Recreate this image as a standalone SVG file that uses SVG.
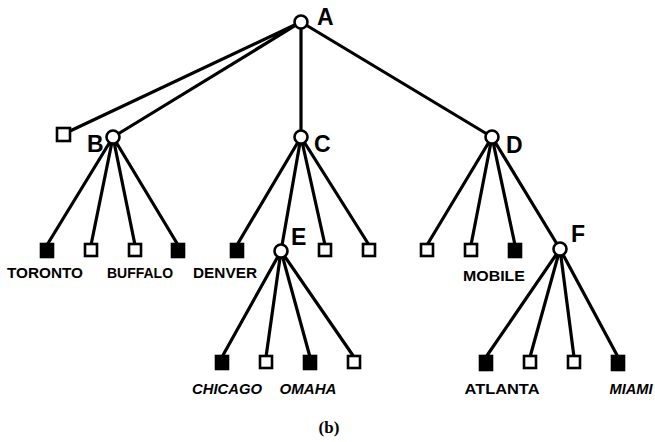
<svg xmlns="http://www.w3.org/2000/svg" width="655" height="442" viewBox="0 0 655 442">
<style>
.e{stroke:#000;stroke-width:3.2;fill:none;stroke-linecap:round}
.c{fill:#fff;stroke:#000;stroke-width:2.6}
.h{fill:#fff;stroke:#000;stroke-width:2.6}
.f{fill:#000;stroke:#000;stroke-width:2.6}
.n{font-family:"Liberation Sans",Arial,sans-serif;font-weight:bold;font-size:23px}
.l{font-family:"Liberation Sans",Arial,sans-serif;font-weight:bold;font-size:15px}
.i{font-style:italic}
</style>
<rect width="655" height="442" fill="#fff"/>
<g id="connectors">
<path class="e" d="M301 22L70 131M301 22L113 137M301 22L301 137M301 22L492 137"/>
<path class="e" d="M113 137L47 245M113 137L91 245M113 137L135 245M113 137L178 245"/>
<path class="e" d="M301 137L237 245M301 137L281 251M301 137L325 245M301 137L369 245"/>
<path class="e" d="M492 137L427 245M492 137L471 245M492 137L515 245M492 137L560 249"/>
<path class="e" d="M281 251L222 357M281 251L266 357M281 251L310 357M281 251L354 357"/>
<path class="e" d="M560 249L486 357M560 249L530 357M560 249L574 357M560 249L618 357"/>
</g>
<g id="A"><circle class="c" cx="301" cy="22" r="6.5"/><text class="n" x="317" y="25">A</text></g>
<g id="Bsq"><rect class="h" x="57" y="128" width="13" height="13"/></g>
<g id="B"><circle class="c" cx="113" cy="137" r="6.5"/><text class="n" x="87" y="152">B</text></g>
<g id="C"><circle class="c" cx="301" cy="137" r="6.5"/><text class="n" x="314" y="152">C</text></g>
<g id="D"><circle class="c" cx="492" cy="137" r="6.5"/><text class="n" x="506" y="153">D</text></g>
<g id="E"><circle class="c" cx="281" cy="251" r="6.5"/><text class="n" x="291" y="245">E</text></g>
<g id="F"><circle class="c" cx="560" cy="249" r="6.5"/><text class="n" x="571" y="242">F</text></g>
<g id="toronto"><rect class="f" x="41" y="244" width="12" height="13"/><text class="l" x="45" y="278" text-anchor="middle" textLength="76" lengthAdjust="spacingAndGlyphs">TORONTO</text></g>
<g id="b2"><rect class="h" x="85" y="244" width="12" height="12"/></g>
<g id="buffalo"><rect class="h" x="129" y="244" width="12" height="12"/><text class="l" x="140" y="278" text-anchor="middle" textLength="66" lengthAdjust="spacingAndGlyphs">BUFFALO</text></g>
<g id="b4"><rect class="f" x="172" y="244" width="12" height="13"/></g>
<g id="denver"><rect class="f" x="231" y="244" width="12" height="13"/><text class="l" x="225" y="278" text-anchor="middle" textLength="64" lengthAdjust="spacingAndGlyphs">DENVER</text></g>
<g id="c3"><rect class="h" x="319" y="244" width="12" height="12"/></g>
<g id="c4"><rect class="h" x="363" y="244" width="12" height="12"/></g>
<g id="d1"><rect class="h" x="421" y="244" width="12" height="12"/></g>
<g id="mobile"><rect class="h" x="465" y="244" width="12" height="12"/><text class="l" x="494" y="281" text-anchor="middle" textLength="62" lengthAdjust="spacingAndGlyphs">MOBILE</text></g>
<g id="d3"><rect class="f" x="509" y="244" width="12" height="13"/></g>
<g id="chicago"><rect class="f" x="216" y="356" width="12" height="13"/><text class="l i" x="227" y="394" text-anchor="middle" textLength="70" lengthAdjust="spacingAndGlyphs">CHICAGO</text></g>
<g id="e2"><rect class="h" x="260" y="356" width="12" height="12"/></g>
<g id="omaha"><rect class="f" x="304" y="356" width="12" height="13"/><text class="l i" x="308" y="394" text-anchor="middle" textLength="57" lengthAdjust="spacingAndGlyphs">OMAHA</text></g>
<g id="e4"><rect class="h" x="348" y="356" width="12" height="12"/></g>
<g id="atlanta"><rect class="f" x="480" y="356" width="12" height="14"/><text class="l" x="502" y="394" text-anchor="middle" textLength="75" lengthAdjust="spacingAndGlyphs">ATLANTA</text></g>
<g id="f2"><rect class="h" x="524" y="356" width="12" height="12"/></g>
<g id="f3"><rect class="h" x="568" y="356" width="12" height="12"/></g>
<g id="miami"><rect class="f" x="612" y="356" width="12" height="14"/><text class="l i" x="631" y="394" text-anchor="middle" textLength="43" lengthAdjust="spacingAndGlyphs">MIAMI</text></g>
<text x="329" y="433" text-anchor="middle" font-family="'Liberation Serif','Times New Roman',serif" font-weight="bold" font-size="17">(b)</text>
</svg>
